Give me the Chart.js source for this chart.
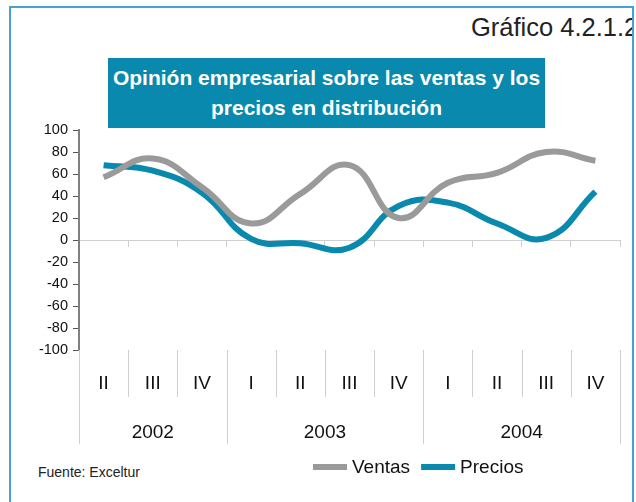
<!DOCTYPE html>
<html>
<head>
<meta charset="utf-8">
<script src="https://cdn.jsdelivr.net/npm/chart.js@4.4.1/dist/chart.umd.min.js"></script>
<style>
  html, body { margin: 0; padding: 0; background: #fff; }
  body { width: 636px; height: 502px; position: relative; overflow: hidden; font-family: 'Liberation Sans', Arial, sans-serif; }
  #frame { position: absolute; left: 9px; top: 6px; width: 621px; height: 520px; border: 2px solid #4a9fd6; overflow: hidden; }
  #grafico { position: absolute; left: 460px; top: 5px; font-size: 25.5px; color: #222; white-space: nowrap; }
  #titleBox { position: absolute; left: 108px; top: 58px; width: 437px; height: 70px; background: #0889ad; color: #fff; font-weight: bold; font-size: 21px; line-height: 30px; text-align: center; padding-top: 5px; box-sizing: border-box; white-space: nowrap; }
  #source { position: absolute; left: 38px; top: 464px; font-size: 14px; color: #222; }
  canvas { position: absolute; left: 0; top: 0; }
</style>
</head>
<body>
<div id="frame"><div id="grafico">Gráfico 4.2.1.2</div></div>
<div id="titleBox">Opinión empresarial sobre las ventas y los<br>precios en distribución</div>
<div id="source">Fuente: Exceltur</div>
<canvas id="chart" width="636" height="502"></canvas>
<script>
// Data
const quarters = ['II', 'III', 'IV', 'I', 'II', 'III', 'IV', 'I', 'II', 'III', 'IV'];
const years = ['2002', '2002', '2002', '2003', '2003', '2003', '2003', '2004', '2004', '2004', '2004'];
const ventas = [57, 74, 48, 15, 42, 68, 20, 52, 61, 80, 72];
const precios = [68, 63, 43, 1, -3, -7, 31, 34, 15, 2, 44];
const yTicks = [100, 80, 60, 40, 20, 0, -20, -40, -60, -80, -100];

const FONT = "'Liberation Sans', Arial, sans-serif";

// Draws the two-level category labels and the legend below the plot
const bottomLabels = {
    id: 'bottomLabels',
    afterDraw(chart) {
        const ctx = chart.ctx;
        const x = chart.scales.x;
        const top = chart.chartArea.bottom;

        ctx.save();
        ctx.strokeStyle = '#cfcfcf';
        ctx.lineWidth = 1;
        for (let i = 0; i <= quarters.length; i++) {
            const px = Math.round(x.getPixelForValue(i - 0.5)) + 0.5;
            const yearEdge = i === 0 || i === quarters.length || years[i] !== years[i - 1];
            ctx.beginPath();
            ctx.moveTo(px, top);
            ctx.lineTo(px, yearEdge ? top + 94 : top + 47);
            ctx.stroke();
        }

        ctx.fillStyle = '#111';
        ctx.font = '19px ' + FONT;
        ctx.textAlign = 'center';
        ctx.textBaseline = 'middle';
        quarters.forEach((q, i) => {
            ctx.fillText(q, x.getPixelForValue(i), top + 34);
        });

        let start = 0;
        for (let i = 1; i <= years.length; i++) {
            if (i === years.length || years[i] !== years[start]) {
                ctx.fillText(years[start], x.getPixelForValue((start + i - 1) / 2), top + 83);
                start = i;
            }
        }

        // legend
        let lx = 313;
        const ly = 467;
        ctx.textAlign = 'left';
        chart.data.datasets.forEach(ds => {
            ctx.fillStyle = ds.borderColor;
            ctx.fillRect(lx, ly - 3, 34, 6);
            lx += 39;
            ctx.fillStyle = '#111';
            ctx.fillText(ds.label, lx, ly + 1);
            lx += ctx.measureText(ds.label).width + 11;
        });
        ctx.restore();
    }
};

new Chart(document.getElementById('chart'), {
    type: 'line',
    data: {
        labels: quarters,
        datasets: [
            {
                label: 'Ventas',
                data: ventas,
                borderColor: '#9a9a9a',
                borderWidth: 6,
                tension: 0.45,
                pointRadius: 0,
                fill: false
            },
            {
                label: 'Precios',
                data: precios,
                borderColor: '#0889ad',
                borderWidth: 6,
                tension: 0.45,
                pointRadius: 0,
                fill: false
            }
        ]
    },
    options: {
        responsive: false,
        devicePixelRatio: 1,
        animation: false,
        layout: { padding: { left: 0, right: 16, top: 130, bottom: 152 } },
        plugins: {
            legend: { display: false },
            tooltip: { enabled: false }
        },
        scales: {
            x: {
                type: 'category',
                position: { y: 0 },
                offset: true,
                grid: {
                    offset: true,
                    drawOnChartArea: false,
                    drawTicks: true,
                    tickLength: 6,
                    color: '#cfcfcf'
                },
                border: { color: '#cfcfcf', width: 1 },
                ticks: { display: false }
            },
            y: {
                min: -100,
                max: 100,
                afterFit(scale) { scale.width = 79; },
                afterBuildTicks(scale) { scale.ticks = yTicks.map(v => ({ value: v })); },
                grid: {
                    drawOnChartArea: false,
                    drawTicks: true,
                    tickLength: 6,
                    color: '#555'
                },
                border: { color: '#808080', width: 2 },
                ticks: {
                    color: '#111',
                    padding: 5,
                    font: { family: FONT, size: 14.5 }
                }
            }
        }
    },
    plugins: [bottomLabels]
});
</script>
</body>
</html>
